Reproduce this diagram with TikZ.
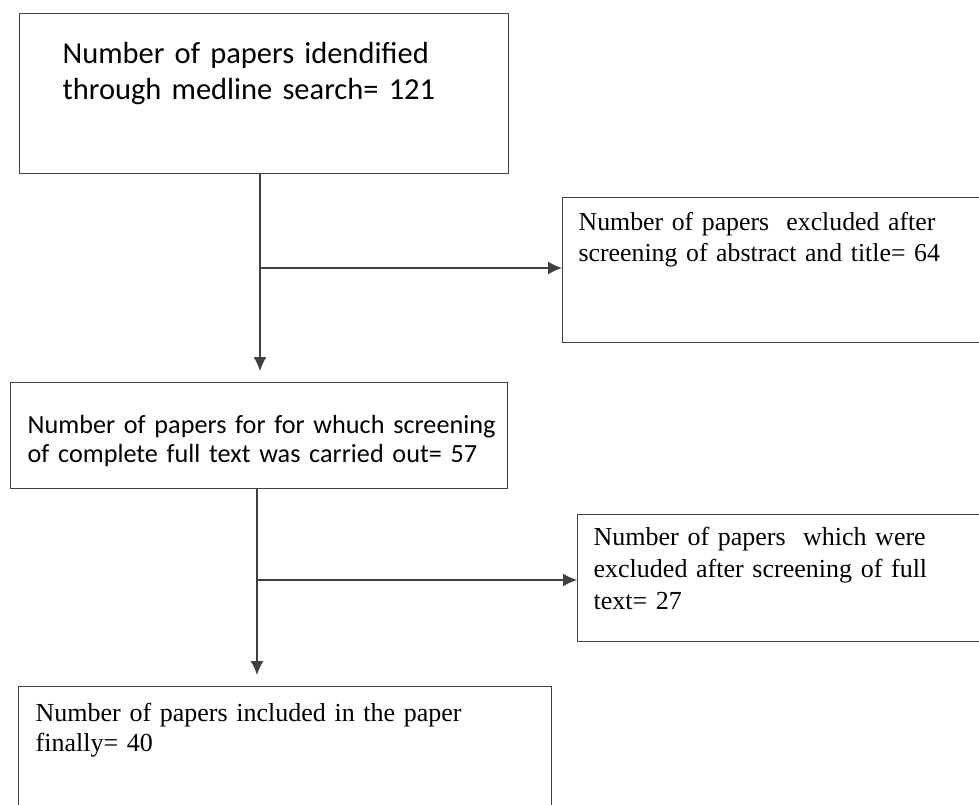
\documentclass[tikz,border=0pt]{standalone}
\usepackage{fontspec}
\setmainfont{Liberation Serif}
\newfontfamily\calibri{Carlito}
\usetikzlibrary{arrows.meta}
\newcommand{\boxtext}[2]{\hspace*{#1}\begin{tabular}[t]{@{}l@{}}#2\end{tabular}}

\begin{document}
\begin{tikzpicture}[x=1pt,y=-1pt,
  flowbox/.style={draw=black!75, line width=1.3pt, inner sep=0pt, anchor=north west},
  flowarrow/.style={draw=black!75, line width=1.3pt, -{Latex[length=14pt,width=13pt]}}]
\useasboundingbox (0,0) rectangle (979,805);
\node[flowbox, text width=489pt, text height=50pt, text depth=110pt,
  font=\calibri\fontsize{30.5}{36}\selectfont] (ident) at (19,13)
  {\boxtext{43pt}{Number of papers idendified\\through medline search= 121}};
\node[flowbox, text width=433pt, text height=33pt, text depth=112pt,
  font=\fontsize{25.8}{31}\selectfont] (excl) at (562,197)
  {\boxtext{16pt}{Number of papers\ \ excluded after\\screening of abstract and title= 64}};
\node[flowbox, text width=497pt, text height=51pt, text depth=55pt,
  font=\calibri\fontsize{26.2}{29}\selectfont] (screen) at (10,382)
  {\boxtext{17pt}{Number of papers for for whuch screening\\of complete full text was carried out= 57}};
\node[flowbox, text width=420pt, text height=31pt, text depth=96pt,
  font=\fontsize{26}{32}\selectfont] (exclft) at (577,514)
  {\boxtext{16pt}{Number of papers\ \ which were\\excluded after screening of full\\text= 27}};
\node[flowbox, text width=533pt, text height=35pt, text depth=109pt,
  font=\fontsize{26}{30}\selectfont] (incl) at (18,686)
  {\boxtext{17pt}{Number of papers included in the paper\\finally= 40}};
\coordinate (j1) at (260,268);
\coordinate (j2) at (257,580);
\draw[flowarrow, shorten >=11pt] (ident.south -| j1) -- (screen.north -| j1);
\draw[flowarrow] (j1) -- (excl.west |- j1);
\draw[flowarrow, shorten >=11pt] (screen.south -| j2) -- (incl.north -| j2);
\draw[flowarrow] (j2) -- (exclft.west |- j2);
\end{tikzpicture}
\end{document}
